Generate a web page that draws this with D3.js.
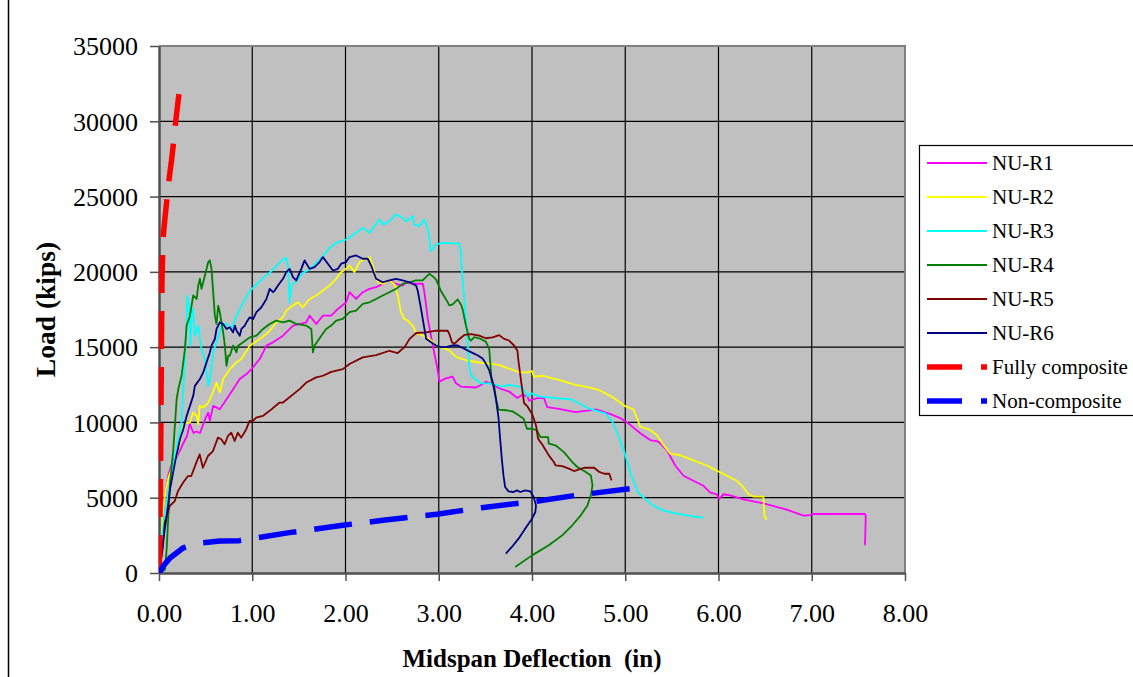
<!DOCTYPE html>
<html>
<head>
<meta charset="utf-8">
<script src="https://cdn.jsdelivr.net/npm/d3@7"></script>
<style>
  body { margin: 0; background: #fff; }
  svg { display: block; font-family: "Liberation Serif", "Times New Roman", serif; }
</style>
</head>
<body>
<svg id="chart" width="1133" height="677"></svg>
<script>
// tick values
const xTicks = [0, 1, 2, 3, 4, 5, 6, 7, 8];
const yTicks = [0, 5000, 10000, 15000, 20000, 25000, 30000, 35000];

// series [deflection (in), load (kips)]
const nuR1 = [[0,0],[0.02,1500],[0.04,3500],[0.07,5500],[0.1,6500],[0.15,7500],[0.19,7700],[0.26,8600],[0.3,9100],[0.33,9900],[0.37,9300],[0.4,9400],[0.44,9300],[0.5,10300],[0.528,10650],[0.545,10100],[0.581,11100],[0.652,10880],[0.724,11540],[0.795,12210],[0.866,12880],[0.938,13210],[0.991,13540],[1.08,14210],[1.152,15100],[1.223,15320],[1.33,15760],[1.437,16430],[1.579,16650],[1.615,17090],[1.686,16540],[1.758,17090],[1.847,17090],[1.9,17430],[2.007,17980],[2.043,18650],[2.114,18200],[2.185,18650],[2.257,18870],[2.328,18980],[2.399,19200],[2.471,19420],[2.542,19200],[2.613,19090],[2.649,19310],[2.722,19210],[2.829,19210],[2.847,18600],[2.883,16860],[2.936,15110],[2.979,13800],[3.007,12710],[3.078,12930],[3.149,13040],[3.185,12600],[3.238,12380],[3.315,12350],[3.399,12320],[3.452,12490],[3.505,12710],[3.577,12530],[3.648,12270],[3.754,12050],[3.843,11620],[3.897,11840],[3.95,11730],[3.968,11440],[4.054,11620],[4.128,11620],[4.164,11010],[4.288,10900],[4.468,10690],[4.613,10800],[4.685,10860],[4.829,10580],[4.946,10290],[5.054,9840],[5.161,9280],[5.268,8830],[5.357,8720],[5.446,8150],[5.536,7140],[5.625,6460],[5.768,6010],[5.839,5790],[5.911,5340],[5.982,5230],[6.007,4930],[6.054,5230],[6.125,5160],[6.268,4890],[6.482,4620],[6.732,4210],[6.911,3810],[6.982,3850],[7.018,3920],[7.571,3920],[7.579,3760],[7.571,1850]];

const nuR2 = [[0,0],[0.02,1500],[0.04,3800],[0.07,5500],[0.1,6300],[0.14,7000],[0.19,7800],[0.24,9100],[0.257,9770],[0.293,9990],[0.332,9990],[0.364,10660],[0.403,10430],[0.421,9880],[0.436,11100],[0.474,10990],[0.528,11320],[0.563,11770],[0.617,12650],[0.652,11990],[0.688,12880],[0.759,13540],[0.831,13990],[0.884,14210],[0.973,15100],[1.08,15540],[1.152,15870],[1.205,16210],[1.258,16650],[1.33,16980],[1.365,17430],[1.437,17760],[1.49,17980],[1.544,17650],[1.615,18200],[1.686,18430],[1.758,18760],[1.829,19090],[1.9,19540],[1.954,19980],[2.007,20200],[2.043,20420],[2.096,19980],[2.15,20650],[2.221,20870],[2.257,20980],[2.292,20420],[2.328,19540],[2.353,19310],[2.399,19200],[2.471,19430],[2.524,19200],[2.56,18430],[2.595,17320],[2.631,16870],[2.669,16750],[2.722,16420],[2.758,15940],[2.829,15770],[2.9,15550],[2.972,15110],[3.025,15000],[3.114,14780],[3.185,14350],[3.292,14130],[3.434,13980],[3.541,13910],[3.648,13800],[3.754,13580],[3.861,13320],[3.95,13320],[4.004,13410],[4.021,13040],[4.11,13100],[4.288,12820],[4.466,12490],[4.573,12380],[4.715,12160],[4.875,11640],[4.946,11310],[5.0,11080],[5.089,10860],[5.125,10290],[5.161,9730],[5.268,9500],[5.339,9170],[5.411,8490],[5.482,7930],[5.589,7820],[5.732,7480],[5.875,7140],[5.982,6800],[6.089,6460],[6.196,6130],[6.268,5680],[6.321,5230],[6.375,5070],[6.482,5070],[6.493,3760],[6.518,3540]];

const nuR3 = [[0,0],[0.011,1550],[0.064,4000],[0.118,6000],[0.171,7770],[0.242,9990],[0.26,12210],[0.296,16210],[0.303,18430],[0.321,17760],[0.339,15100],[0.349,17090],[0.367,17540],[0.385,15760],[0.421,16430],[0.456,14870],[0.492,14210],[0.528,12430],[0.545,12880],[0.581,14650],[0.617,15320],[0.652,15980],[0.67,16540],[0.724,16540],[0.777,16210],[0.831,17060],[0.902,17950],[0.973,18720],[1.045,19160],[1.116,19600],[1.187,19940],[1.258,20380],[1.33,20820],[1.365,20930],[1.383,20380],[1.401,17950],[1.419,19050],[1.472,19380],[1.544,19940],[1.615,20160],[1.686,20600],[1.758,21040],[1.829,21590],[1.9,21930],[2.007,22150],[2.114,22590],[2.185,22920],[2.257,22590],[2.364,23480],[2.399,23140],[2.471,23360],[2.542,23810],[2.613,23590],[2.649,23360],[2.72,23700],[2.738,23140],[2.791,23030],[2.845,23480],[2.881,22920],[2.916,21370],[2.97,21820],[3.041,21930],[3.221,21880],[3.238,21220],[3.256,19480],[3.292,16860],[3.31,15330],[3.327,13800],[3.345,13150],[3.399,12820],[3.452,12600],[3.541,12600],[3.612,12490],[3.683,12380],[3.754,12490],[3.861,12380],[3.915,12160],[3.95,11730],[3.986,11950],[4.075,11730],[4.253,11620],[4.431,11510],[4.613,10910],[4.793,10580],[4.865,10020],[4.937,8920],[4.991,8030],[5.063,6480],[5.135,5380],[5.207,4940],[5.297,4490],[5.405,4160],[5.55,3940],[5.694,3790],[5.838,3670]];

const nuR4 = [[0,0],[0.064,220],[0.082,1550],[0.1,3770],[0.118,5990],[0.153,8210],[0.189,11540],[0.207,12210],[0.242,13100],[0.278,14870],[0.296,16430],[0.332,17090],[0.367,18430],[0.403,18200],[0.421,19090],[0.439,19540],[0.456,18870],[0.474,19310],[0.51,20200],[0.528,20650],[0.545,20760],[0.563,20200],[0.581,18650],[0.599,17090],[0.617,16540],[0.635,17760],[0.652,17320],[0.688,15980],[0.706,15100],[0.724,13760],[0.742,14430],[0.759,14430],[0.795,15100],[0.831,14650],[0.848,15100],[0.902,15320],[0.973,15650],[1.045,15760],[1.116,16210],[1.187,16540],[1.258,16760],[1.33,16650],[1.401,16760],[1.472,16540],[1.579,16430],[1.633,16210],[1.651,14650],[1.668,15100],[1.704,15430],[1.74,15760],[1.793,16210],[1.847,16430],[1.9,16760],[1.971,16870],[2.043,17320],[2.114,17430],[2.185,17870],[2.257,17980],[2.328,18200],[2.399,18430],[2.471,18650],[2.542,18870],[2.613,19200],[2.685,19310],[2.756,19430],[2.827,19430],[2.898,19870],[2.936,19700],[2.972,19480],[3.025,18710],[3.078,18170],[3.114,17770],[3.149,17840],[3.203,18170],[3.238,17840],[3.256,17510],[3.292,16420],[3.327,15550],[3.345,15440],[3.381,15660],[3.434,15590],[3.505,15370],[3.541,14890],[3.568,12680],[3.594,12490],[3.612,11620],[3.641,10850],[3.719,10810],[3.79,10740],[3.856,10470],[3.91,10240],[3.946,9580],[4.0,9580],[4.054,9470],[4.09,9030],[4.173,9030],[4.18,8590],[4.252,8480],[4.342,8030],[4.432,7370],[4.486,7040],[4.577,6710],[4.631,6480],[4.649,5820],[4.631,5160],[4.595,4490],[4.523,3830],[4.432,3170],[4.324,2500],[4.18,1840],[4.0,1170],[3.82,400]];

const nuR5 = [[0,0],[0.02,800],[0.043,1780],[0.061,3330],[0.114,4440],[0.168,4770],[0.204,5440],[0.257,5990],[0.311,6440],[0.346,6440],[0.4,7330],[0.436,7880],[0.471,6990],[0.525,7770],[0.579,8100],[0.632,8990],[0.668,8880],[0.704,8550],[0.739,9100],[0.775,9320],[0.811,8770],[0.846,9320],[0.882,8990],[0.936,9550],[0.971,10100],[1.007,10100],[1.043,10320],[1.114,10430],[1.186,10770],[1.293,11320],[1.33,11320],[1.508,12210],[1.579,12650],[1.686,12990],[1.758,13100],[1.847,13360],[1.971,13540],[2.043,13880],[2.185,14320],[2.328,14470],[2.471,14760],[2.56,14610],[2.633,15000],[2.687,15550],[2.758,15940],[2.865,15980],[2.972,16090],[3.096,16090],[3.114,15870],[3.142,15330],[3.167,15220],[3.203,15440],[3.274,15810],[3.345,15870],[3.434,15760],[3.505,15590],[3.577,15650],[3.648,15800],[3.701,15550],[3.754,15440],[3.808,15110],[3.843,14780],[3.854,14130],[3.879,12930],[3.915,11290],[3.95,11070],[4.004,10530],[4.043,9800],[4.065,8920],[4.115,8480],[4.18,7810],[4.234,7370],[4.252,7150],[4.324,7100],[4.396,6930],[4.45,6770],[4.505,6880],[4.559,6990],[4.667,6990],[4.721,6710],[4.775,6590],[4.829,6590],[4.847,6260],[4.854,6150]];

const nuR6 = [[0,0],[0.011,440],[0.046,2220],[0.082,3770],[0.118,5550],[0.171,7330],[0.225,8880],[0.26,9550],[0.296,10430],[0.332,11100],[0.367,11770],[0.385,12430],[0.439,12880],[0.474,13320],[0.51,13990],[0.545,14650],[0.563,15100],[0.599,15540],[0.617,16210],[0.652,16650],[0.688,16540],[0.724,16210],[0.759,16320],[0.795,15980],[0.813,16430],[0.831,16100],[0.866,15760],[0.884,16210],[0.92,16430],[0.938,16650],[0.973,16980],[1.009,16870],[1.045,17320],[1.098,17650],[1.152,18200],[1.187,18870],[1.223,18650],[1.241,18760],[1.276,19090],[1.33,19540],[1.365,19980],[1.401,20200],[1.437,19650],[1.472,19430],[1.526,20200],[1.561,20760],[1.615,20200],[1.668,20310],[1.722,20650],[1.758,20980],[1.811,20540],[1.865,20090],[1.918,20200],[1.954,20540],[2.007,20650],[2.043,20980],[2.114,21090],[2.185,20870],[2.239,20870],[2.275,20420],[2.328,19540],[2.399,19310],[2.471,19430],[2.542,19540],[2.613,19430],[2.685,19310],[2.722,19210],[2.758,19080],[2.776,18710],[2.811,17510],[2.847,16200],[2.865,15550],[2.918,15330],[2.972,15110],[3.025,15000],[3.078,15000],[3.149,15110],[3.203,15110],[3.274,14890],[3.345,14670],[3.416,14460],[3.47,14240],[3.505,13910],[3.541,13470],[3.577,12710],[3.612,11620],[3.641,10310],[3.658,8920],[3.676,7590],[3.694,6480],[3.712,5710],[3.748,5420],[3.802,5380],[3.838,5490],[3.874,5380],[3.928,5490],[3.982,5420],[4.018,5050],[4.043,4490],[4.036,4050],[4.0,3610],[3.928,2950],[3.856,2280],[3.784,1730],[3.719,1290]];

const fullyComposite = [[0,0],[0.01,3000],[0.018,8000],[0.025,14000],[0.032,19460],[0.043,22180],[0.064,23580],[0.107,26100],[0.139,27630],[0.182,30150],[0.214,31800]];

const nonComposite = [[0,0],[0.011,90],[0.05,500],[0.118,1000],[0.257,1660],[0.44,1990],[0.654,2120],[0.861,2150],[1.397,2680],[1.97,3170],[2.424,3520],[2.978,3900],[3.46,4340],[4.043,4760],[4.472,5160],[5.051,5600]];

const seriesNames = ["NU-R1","NU-R2","NU-R3","NU-R4","NU-R5","NU-R6","Fully composite","Non-composite"];
const seriesData = [nuR1, nuR2, nuR3, nuR4, nuR5, nuR6, fullyComposite, nonComposite];
const seriesColors = ["#ff00ff","#ffff00","#00ffff","#008000","#800000","#000080","#ff0000","#0000ff"];

const svg = d3.select("#chart");
const W = 1133, H = 677;
const plot = {left: 159, right: 905, top: 46, bottom: 573};

const x = d3.scaleLinear().domain([0, 8]).range([plot.left, plot.right]);
const y = d3.scaleLinear().domain([0, 35000]).range([plot.bottom, plot.top]);

svg.append("rect").attr("width", W).attr("height", H).attr("fill", "#fff");
// chart area border (only left edge visible)
svg.append("line").attr("x1", 8.5).attr("x2", 8.5).attr("y1", 0).attr("y2", H)
    .attr("stroke", "#000").attr("stroke-width", 1.5);

// plot background
svg.append("rect")
    .attr("x", plot.left).attr("y", plot.top)
    .attr("width", plot.right - plot.left).attr("height", plot.bottom - plot.top)
    .attr("fill", "#c0c0c0");

// gridlines
const grid = svg.append("g");
grid.selectAll(".hg").data(yTicks.filter(d => d > 0 && d < 35000)).join("line")
    .attr("x1", plot.left).attr("x2", plot.right)
    .attr("y1", d => y(d)).attr("y2", d => y(d))
    .attr("stroke", "#000").attr("stroke-width", 1.2);
grid.selectAll(".vg").data(xTicks.filter(d => d > 0 && d < 8)).join("line")
    .attr("y1", plot.top).attr("y2", plot.bottom)
    .attr("x1", d => x(d)).attr("x2", d => x(d))
    .attr("stroke", "#000").attr("stroke-width", 1.2);

// plot border top/right
svg.append("path")
    .attr("d", `M${plot.left},${plot.top}H${plot.right}V${plot.bottom}`)
    .attr("fill", "none").attr("stroke", "#808080").attr("stroke-width", 2);

// axes
const xAxis = d3.axisBottom(x).tickValues(xTicks).tickSize(8).tickSizeOuter(0)
    .tickFormat(d3.format(".2f"));
const yAxis = d3.axisLeft(y).tickValues(yTicks).tickSize(9).tickSizeOuter(0)
    .tickFormat(d => d);

const gx = svg.append("g").attr("transform", `translate(0,${plot.bottom})`).call(xAxis);
const gy = svg.append("g").attr("transform", `translate(${plot.left},0)`).call(yAxis);

[gx, gy].forEach(g => {
    g.select(".domain").attr("stroke", "#505050").attr("stroke-width", 2.5);
    g.selectAll(".tick line").attr("stroke", "#505050").attr("stroke-width", 1.5);
    g.selectAll(".tick text")
        .attr("font-family", "Liberation Serif, serif")
        .attr("font-size", 26).attr("fill", "#000");
});
gx.selectAll(".tick text").attr("y", 0).attr("dy", 0)
    .attr("transform", "translate(0,49)");
gy.selectAll(".tick text").attr("x", -21).attr("dy", "0.34em");

// clip for data
svg.append("clipPath").attr("id", "clip").append("rect")
    .attr("x", plot.left).attr("y", plot.top)
    .attr("width", plot.right - plot.left).attr("height", plot.bottom - plot.top);

const line = d3.line().x(d => x(d[0])).y(d => y(d[1]));
const lines = svg.append("g").attr("clip-path", "url(#clip)");

seriesData.forEach((data, i) => {
    const dashed = i >= 6;
    lines.append("path")
        .datum(data)
        .attr("d", line)
        .attr("fill", "none")
        .attr("stroke", seriesColors[i])
        .attr("stroke-width", dashed ? 5.5 : 1.8)
        .attr("stroke-dasharray", dashed ? "38,18" : null)
        .attr("stroke-linejoin", "round");
});

// axis titles
svg.append("text")
    .attr("x", x(4)).attr("y", 667)
    .attr("text-anchor", "middle")
    .attr("font-size", 25).attr("font-weight", "bold")
    .text("Midspan Deflection  (in)")
    .style("white-space", "pre");

svg.append("text")
    .attr("transform", `translate(55,${(plot.top + plot.bottom) / 2}) rotate(-90)`)
    .attr("text-anchor", "middle")
    .attr("font-size", 27.5).attr("font-weight", "bold")
    .text("Load (kips)");

// legend
const legend = svg.append("g");
legend.append("rect")
    .attr("x", 919.5).attr("y", 145.5).attr("width", 240).attr("height", 270)
    .attr("fill", "#fff").attr("stroke", "#000").attr("stroke-width", 1.2);

const items = legend.selectAll(".item").data(seriesNames).join("g")
    .attr("transform", (d, i) => `translate(0,${163 + i * 34})`);
items.append("line")
    .attr("x1", 927).attr("x2", 987)
    .attr("stroke", (d, i) => seriesColors[i])
    .attr("stroke-width", (d, i) => i >= 6 ? 5.5 : 2)
    .attr("stroke-dasharray", (d, i) => i >= 6 ? "35,19" : null);
items.append("text")
    .attr("x", 992).attr("dy", "0.35em")
    .attr("font-size", 21)
    .text(d => d);
</script>
</body>
</html>
